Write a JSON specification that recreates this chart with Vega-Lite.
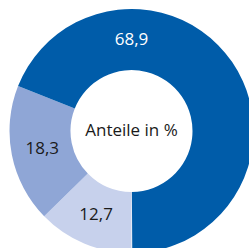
{
  "$schema": "https://vega.github.io/schema/vega-lite/v6.json",
  "width": 249,
  "height": 248,
  "padding": 0,
  "autosize": "none",
  "background": "white",
  "view": {"stroke": null},
  "data": {"values": [
    {"cat": "A", "value": 12.7, "label": "12,7", "rank": 1},
    {"cat": "B", "value": 18.3, "label": "18,3", "rank": 2},
    {"cat": "C", "value": 68.9, "label": "68,9", "rank": 3}
  ]},
  "layer": [
    {
      "mark": {"type": "arc", "outerRadius": 122, "innerRadius": 61, "xOffset": 7, "yOffset": 7},
      "encoding": {
        "theta": {"field": "value", "type": "quantitative", "stack": true, "scale": {"domain": [0, 100], "range": [3.14159265, 9.42477796]}},
        "order": {"field": "rank", "type": "quantitative"},
        "color": {"field": "cat", "type": "nominal", "scale": {"domain": ["A", "B", "C"], "range": ["#c7d1ec", "#8fa6d6", "#005ca9"]}, "legend": null}
      }
    },
    {
      "transform": [{"filter": "datum.cat !== 'C'"}],
      "mark": {"type": "text", "radius": 91, "xOffset": 7, "yOffset": 7, "font": "Open Sans", "fontSize": 17, "fill": "#1a1a1a", "baseline": "middle"},
      "encoding": {
        "theta": {"field": "value", "type": "quantitative", "stack": true, "scale": {"domain": [0, 100], "range": [3.14159265, 9.42477796]}},
        "order": {"field": "rank", "type": "quantitative"},
        "text": {"field": "label"}
      }
    },
    {
      "transform": [{"filter": "datum.cat === 'C'"}],
      "mark": {"type": "text", "radius": 91, "xOffset": 7, "yOffset": 7, "font": "Open Sans", "fontSize": 17, "fill": "#ffffff", "baseline": "middle"},
      "encoding": {
        "theta": {"value": 0},
        "text": {"field": "label"}
      }
    },
    {
      "data": {"values": [{"t": "Anteile in %"}]},
      "mark": {"type": "text", "xOffset": 7, "yOffset": 7, "font": "Open Sans", "fontSize": 17, "fill": "#1a1a1a", "baseline": "middle"},
      "encoding": {
        "text": {"field": "t"}
      }
    }
  ]
}
